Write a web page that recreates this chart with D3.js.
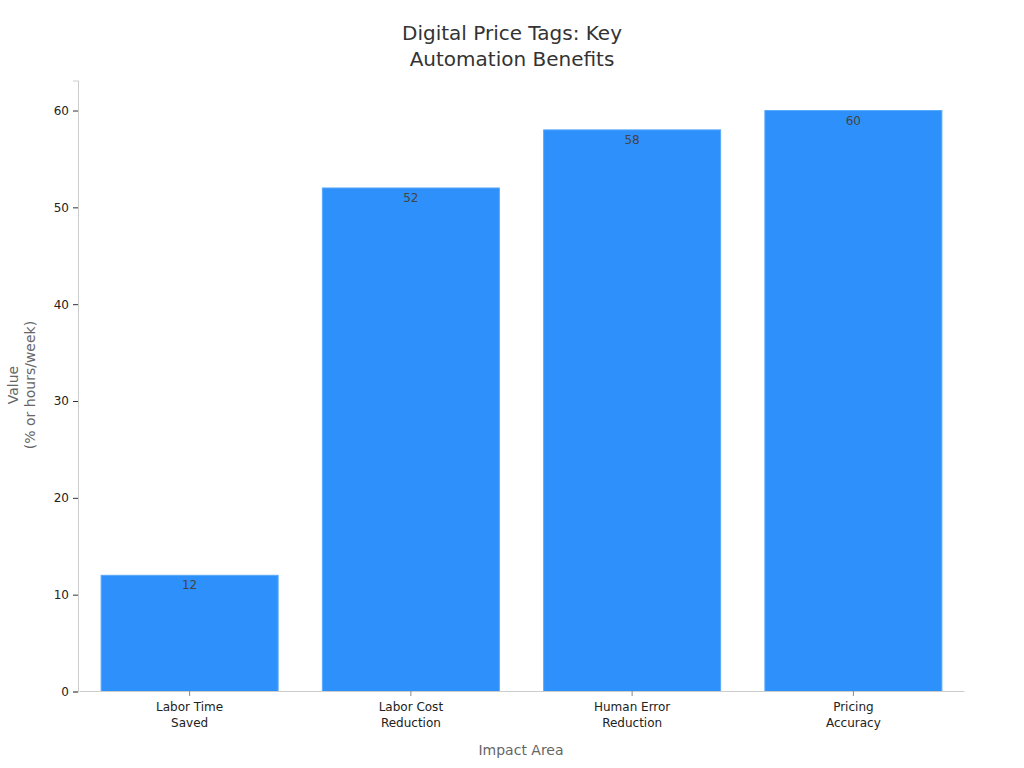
<!DOCTYPE html>
<html><head><meta charset="utf-8">
<script src="https://cdn.jsdelivr.net/npm/d3@7"></script>
<style>body{margin:0;background:#fff;font-family:"DejaVu Sans",sans-serif;}</style>
</head><body><svg id="c" width="1024" height="768"></svg>
<script>
const categories = [["Labor Time","Saved"],["Labor Cost","Reduction"],["Human Error","Reduction"],["Pricing","Accuracy"]];
const values = [12, 52, 58, 60];
const yTicks = [0, 10, 20, 30, 40, 50, 60];
const titleLines = ["Digital Price Tags: Key", "Automation Benefits"];
const yTitleLines = ["Value", "(% or hours/week)"];
const xTitle = "Impact Area";

const svg = d3.select("#c");
const m = {l:78.5, r:963.5, t:80.5, b:691.5};
const keys = categories.map(c => c.join(" "));
const x = d3.scaleBand().domain(keys).range([m.l + 0.5, m.r + 0.5]).paddingInner(0.2).paddingOuter(0.1);
const y = d3.scaleLinear().domain([0, 63.1]).range([m.b, m.t]);

svg.append("g").selectAll("rect").data(values).join("rect")
  .attr("x", (d,i) => x(keys[i])).attr("y", d => y(d))
  .attr("width", x.bandwidth()).attr("height", d => y(0) - y(d))
  .attr("fill", "#2e90fa").attr("stroke", "#5aa8fb").attr("stroke-width", 1);

svg.append("g").selectAll("text").data(values).join("text")
  .attr("x", (d,i) => x(keys[i]) + x.bandwidth()/2).attr("y", d => y(d) + 14)
  .attr("text-anchor", "middle").attr("font-size", 12).attr("fill", "#444").text(d => d);

const ya = svg.append("g").attr("transform", `translate(${m.l - 0.5},0)`)
  .call(d3.axisLeft(y).tickValues(yTicks).tickSize(5).tickPadding(4));
ya.select(".domain").attr("stroke", "#cccccc");
ya.selectAll(".tick line").attr("stroke", "#333");
ya.selectAll(".tick text").attr("font-size", 12).attr("fill", "#222").attr("font-family", "DejaVu Sans");

const xa = svg.append("g").attr("transform", `translate(0,${m.b - 0.5})`)
  .call(d3.axisBottom(x).tickSize(5).tickSizeOuter(0).tickFormat(""));
xa.select(".domain").attr("stroke", "#cccccc");
xa.selectAll(".tick line").attr("stroke", "#888");
xa.selectAll(".tick").each(function(d, i){
  const t = d3.select(this).append("text").attr("fill", "#222").attr("font-size", 12)
    .attr("font-family", "DejaVu Sans").attr("text-anchor", "middle");
  categories[i].forEach((ln, j) => t.append("tspan").attr("x", 0).attr("y", 20 + j*16).text(ln));
});

svg.append("text").attr("x", (m.l+m.r)/2).attr("y", 755).attr("text-anchor", "middle")
  .attr("font-size", 14).attr("fill", "#666").text(xTitle);

const yt = svg.append("text").attr("transform", "translate(0,385) rotate(-90)")
  .attr("text-anchor", "middle").attr("font-size", 14).attr("fill", "#666");
yTitleLines.forEach((ln, j) => yt.append("tspan").attr("x", 0).attr("y", 18 + j*17).text(ln));

const tt = svg.append("text").attr("text-anchor", "middle").attr("font-size", 20).attr("fill", "#333");
titleLines.forEach((ln, j) => tt.append("tspan").attr("x", 512).attr("y", 40 + j*26).text(ln));
</script></body></html>
